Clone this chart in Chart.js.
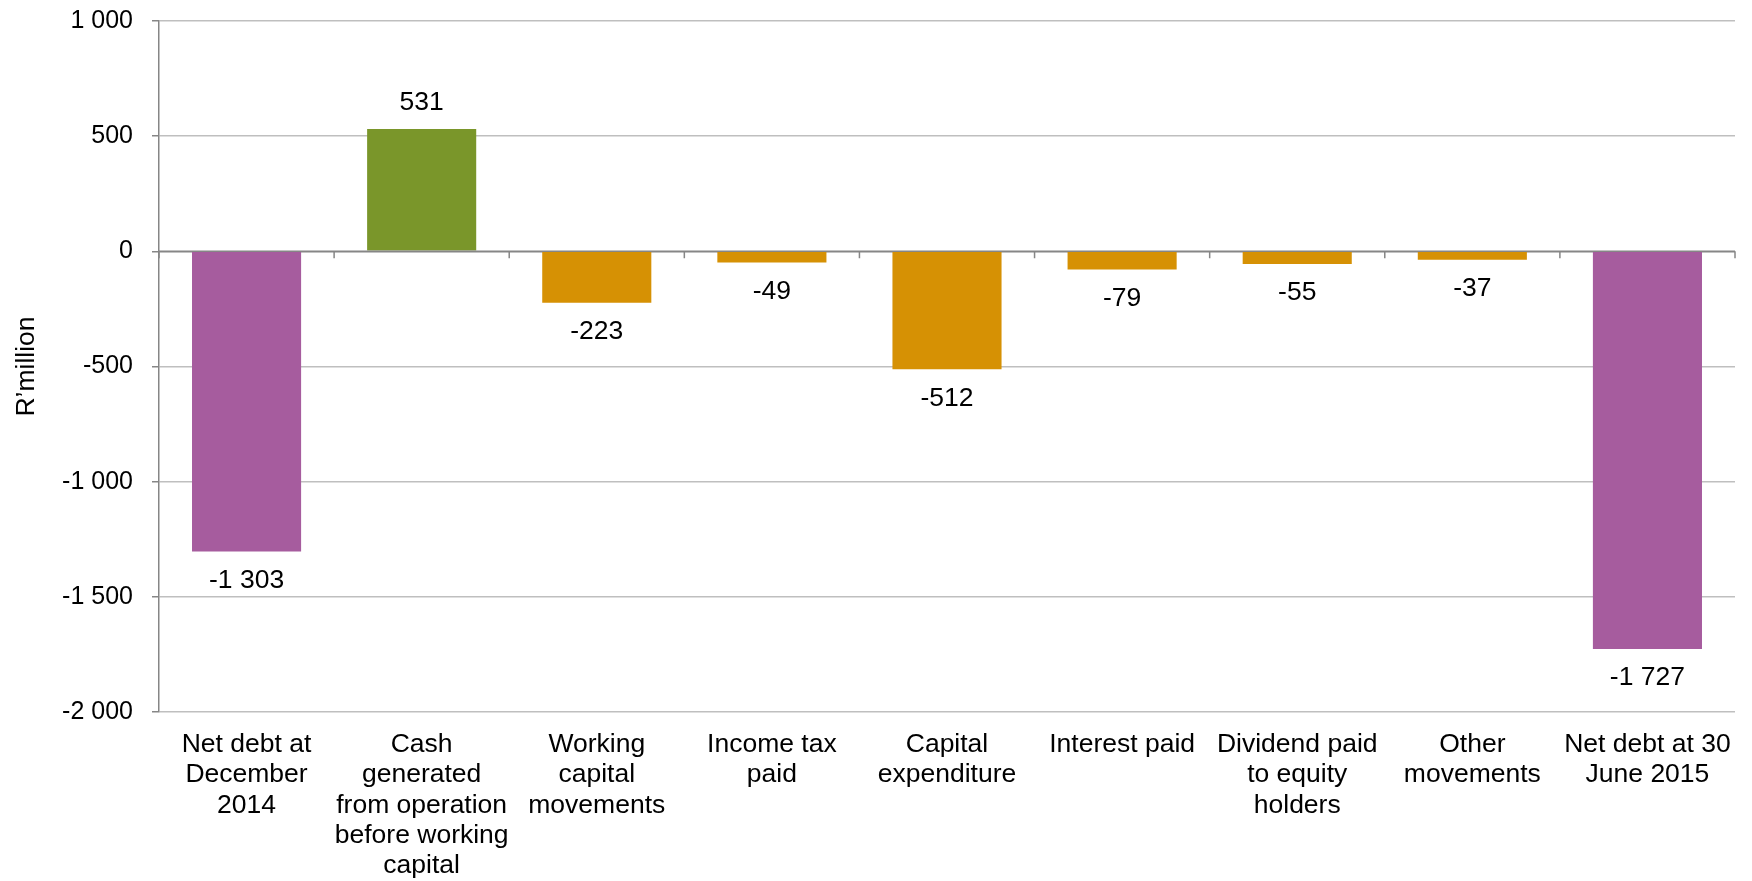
<!DOCTYPE html>
<html>
<head>
<meta charset="utf-8">
<script src="https://cdn.jsdelivr.net/npm/chart.js@4/dist/chart.umd.min.js"></script>
<style>
  html, body { margin: 0; padding: 0; background: #ffffff; }
  #wrap { width: 1752px; height: 881px; position: relative; }
</style>
</head>
<body>
<div id="wrap"><canvas id="c"></canvas></div>
<script>
const categories = [
  ["Net debt at", "December", "2014"],
  ["Cash", "generated", "from operation", "before working", "capital"],
  ["Working", "capital", "movements"],
  ["Income tax", "paid"],
  ["Capital", "expenditure"],
  ["Interest paid"],
  ["Dividend paid", "to equity", "holders"],
  ["Other", "movements"],
  ["Net debt at 30", "June 2015"]
];
const values = [-1303, 531, -223, -49, -512, -79, -55, -37, -1727];
const barKinds = ["debt", "inflow", "outflow", "outflow", "outflow", "outflow", "outflow", "outflow", "debt"];
const kindColors = { debt: "#A65C9E", inflow: "#7A962A", outflow: "#D69104" };
const yMin = -2000, yMax = 1000, yStep = 500;
const yTitle = "R\u2019million";

const FONT = "'Liberation Sans', Arial, sans-serif";

function fmt(v) {
  const s = Math.abs(Math.round(v)).toString().replace(/\B(?=(\d{3})+(?!\d))/g, " ");
  return (v < 0 ? "-" : "") + s;
}

const extras = {
  id: "extras",
  afterDatasetsDraw(chart) {
    const ctx = chart.ctx;
    const xs = chart.scales.x, ys = chart.scales.y;
    const y0 = ys.getPixelForValue(0);
    ctx.save();
    ctx.strokeStyle = "#868686";
    ctx.lineWidth = 1.5;
    ctx.beginPath();
    ctx.moveTo(chart.chartArea.left, y0);
    ctx.lineTo(chart.chartArea.right, y0);
    const half = (xs.getPixelForValue(1) - xs.getPixelForValue(0)) / 2;
    for (let i = 0; i <= values.length; i++) {
      const px = xs.getPixelForValue(i) - half;
      ctx.moveTo(px, y0);
      ctx.lineTo(px, y0 + 7);
    }
    ctx.stroke();
    ctx.fillStyle = "#000000";
    ctx.font = "26.5px " + FONT;
    ctx.textAlign = "center";
    ctx.textBaseline = "middle";
    const meta = chart.getDatasetMeta(0);
    meta.data.forEach((el, i) => {
      const v = values[i];
      const y = v < 0 ? el.y + 29 : el.y - 26;
      ctx.fillText(fmt(v), el.x, y);
    });
    ctx.restore();
  }
};

new Chart(document.getElementById("c"), {
  type: "bar",
  data: {
    labels: categories,
    datasets: [{
      data: values,
      backgroundColor: barKinds.map(k => kindColors[k]),
      borderWidth: 0,
      barPercentage: 0.623,
      categoryPercentage: 1.0
    }]
  },
  options: {
    responsive: true,
    maintainAspectRatio: false,
    animation: false,
    devicePixelRatio: 1,
    layout: { padding: { top: 21, right: 17, bottom: 0, left: 0 } },
    plugins: { legend: { display: false }, tooltip: { enabled: false } },
    scales: {
      x: {
        grid: { display: false, drawTicks: false },
        border: { display: false },
        ticks: {
          color: "#000000",
          font: { family: FONT, size: 26.5, lineHeight: 1.15 },
          padding: 17,
          maxRotation: 0,
          autoSkip: false
        },
        afterFit: s => { s.height = 169; }
      },
      y: {
        min: yMin,
        max: yMax,
        grid: {
          color: c => (c.tick && c.tick.value === 0) ? "#868686" : "#bfbfbf",
          lineWidth: 1.5,
          tickLength: 7,
          tickColor: "#868686"
        },
        border: { display: true, color: "#868686", width: 1.5 },
        ticks: {
          stepSize: yStep,
          color: "#000000",
          font: { family: FONT, size: 25 },
          padding: 19,
          callback: v => fmt(v)
        },
        title: {
          display: true,
          text: yTitle,
          color: "#000000",
          font: { family: FONT, size: 26.5 },
          padding: { top: 11, bottom: 0 }
        },
        afterFit: s => { s.width = 159; s.paddingTop = 0; s.paddingBottom = 0; }
      }
    }
  },
  plugins: [extras]
});
</script>
</body>
</html>
